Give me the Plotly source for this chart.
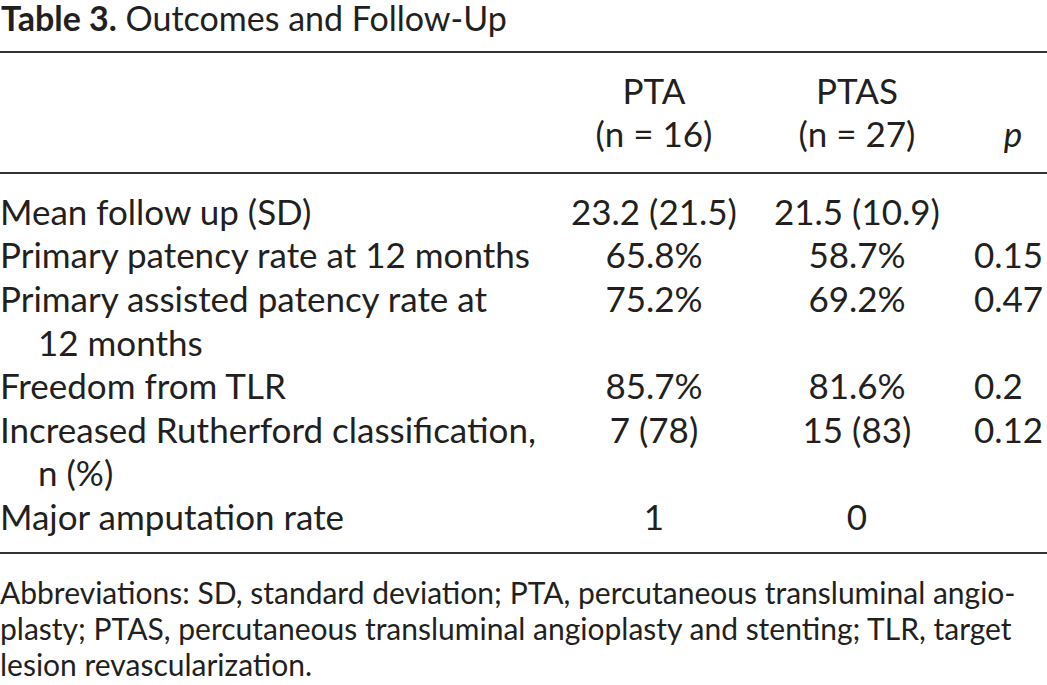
import plotly.graph_objects as go

# Table content
title_bold = "Table 3."
title_rest = "Outcomes and Follow-Up"
group_names = ["PTA", "PTAS"]
group_sizes = ["(n = 16)", "(n = 27)"]
p_header = "p"

row_labels = [
    ["Mean follow up (SD)"],
    ["Primary patency rate at 12 months"],
    ["Primary assisted patency rate at", "12 months"],
    ["Freedom from TLR"],
    ["Increased Rutherford classification,", "n (%)"],
    ["Major amputation rate"],
]
pta_values = ["23.2 (21.5)", "65.8%", "75.2%", "85.7%", "7 (78)", "1"]
ptas_values = ["21.5 (10.9)", "58.7%", "69.2%", "81.6%", "15 (83)", "0"]
p_values = ["", "0.15", "0.47", "0.2", "0.12", ""]

footnote_lines = [
    "Abbreviations: SD, standard deviation; PTA, percutaneous transluminal angio-",
    "plasty; PTAS, percutaneous transluminal angioplasty and stenting; TLR, target",
    "lesion revascularization.",
]

# Layout (pixels, y grows downward)
W, H = 1047, 685
FONT = "Lato"
INK = "#231f20"
BODY_SIZE = 35
col_pta, col_ptas, col_p = 654, 857, 974
row_top, row_step, indent = 216, 43.6, 38
rules_y = [52, 173, 553]

# build body cells
lab_x, lab_y, lab_t = [], [], []
val_y = []
slot = 0
for lines in row_labels:
    val_y.append(row_top + slot * row_step)
    for i, line in enumerate(lines):
        lab_x.append(indent if i else 0)
        lab_y.append(row_top + slot * row_step)
        lab_t.append(line)
        slot += 1

fig = go.Figure()

body_font = dict(family=FONT, size=BODY_SIZE, color=INK)

# title
fig.add_trace(go.Scatter(
    x=[1], y=[22], mode="text", textposition="middle right",
    text=["<b>" + title_bold + "</b> " + title_rest],
    textfont=dict(family=FONT, size=34, color=INK)))

# header
fig.add_trace(go.Scatter(
    x=[col_pta, col_ptas, col_pta, col_ptas], y=[95, 95, 138, 138],
    mode="text", textposition="middle center",
    text=group_names + group_sizes, textfont=body_font))
fig.add_trace(go.Scatter(
    x=[1013], y=[138], mode="text", textposition="middle center",
    text=["<i>" + p_header + "</i>"], textfont=body_font))

# row labels
fig.add_trace(go.Scatter(
    x=lab_x, y=lab_y, mode="text", textposition="middle right",
    text=lab_t, textfont=body_font))

# value columns
fig.add_trace(go.Scatter(
    x=[col_pta] * len(pta_values), y=val_y, mode="text",
    textposition="middle center", text=pta_values, textfont=body_font))
fig.add_trace(go.Scatter(
    x=[col_ptas] * len(ptas_values), y=val_y, mode="text",
    textposition="middle center", text=ptas_values, textfont=body_font))
fig.add_trace(go.Scatter(
    x=[col_p] * len(p_values), y=val_y, mode="text",
    textposition="middle right", text=p_values, textfont=body_font))

# footnote
fig.add_trace(go.Scatter(
    x=[0] * len(footnote_lines), y=[596 + 36 * i for i in range(len(footnote_lines))],
    mode="text", textposition="middle right", text=footnote_lines,
    textfont=dict(family=FONT, size=30, color=INK)))

fig.update_traces(cliponaxis=False)

# horizontal rules
for ry in rules_y:
    fig.add_shape(type="line", x0=0, x1=W, y0=ry, y1=ry, xref="x", yref="y",
                  line=dict(color="#333333", width=2))

fig.update_xaxes(range=[0, W], visible=False, fixedrange=True)
fig.update_yaxes(range=[H, 0], visible=False, fixedrange=True)
fig.update_layout(
    width=W, height=H,
    margin=dict(l=0, r=0, t=0, b=0),
    plot_bgcolor="white", paper_bgcolor="white",
    showlegend=False, hovermode=False)

# drop the default page margin so the table sits at the window corner
fig.write_html("out.html", config={"displayModeBar": False},
               post_script="document.body.style.margin='0';")
